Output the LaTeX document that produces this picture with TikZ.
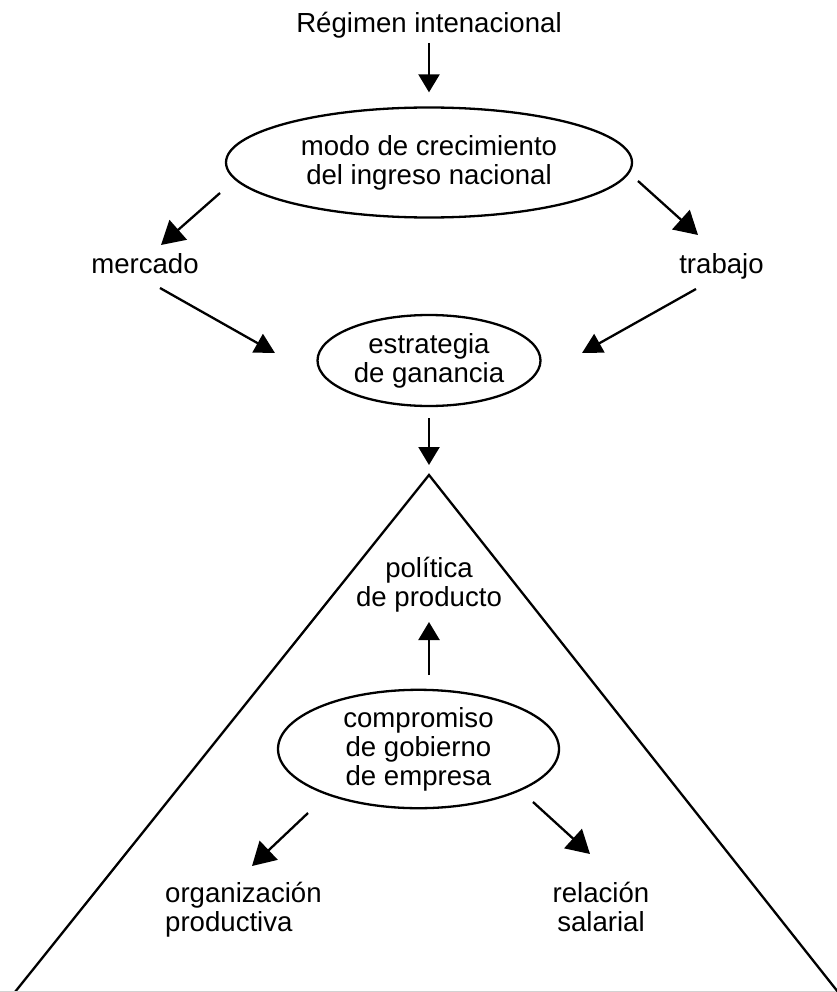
\documentclass[tikz,border=0pt]{standalone}
\usepackage{fontspec}
\setmainfont{Liberation Sans}
\usetikzlibrary{shapes.geometric,arrows.meta}
\begin{document}
\begin{tikzpicture}[x=1pt,y=-1pt,
  every node/.style={font=\fontsize{27.6}{29}\selectfont, inner sep=0pt},
  label/.style={align=center},
  oval/.style={draw, ellipse, line width=2.3pt, align=center},
  arrS/.style={line width=2.3pt, -{Triangle[length=18pt,width=21pt]}},
  arrM/.style={line width=2.3pt, -{Triangle[length=20pt,width=21pt]}},
  arrL/.style={line width=2.3pt, -{Triangle[length=23pt,width=26pt]}},
  edge/.style={line width=2.3pt}]
\useasboundingbox (0,0) rectangle (836,992);
\fill[white] (0,0) rectangle (836,992);

% nodes
\node[anchor=base] (reg) at (429,33) {Régimen intenacional};
\node[oval, minimum width=406pt, minimum height=110pt] (modo) at (429,162.5)
  {modo de crecimiento\\del ingreso nacional};
\node[anchor=base] (merc) at (145,273) {mercado};
\node[anchor=base] (trab) at (721.5,273) {trabajo};
\node[oval, minimum width=223pt, minimum height=91pt] (estr) at (429,360.5)
  {estrategia\\de ganancia};
\coordinate (apex) at (429,475);
\coordinate (bl) at (15,992);
\coordinate (br) at (838,992);
\node[label] (pol) at (429,585) {política\\de producto};
\node[oval, minimum width=281pt, minimum height=114pt] (comp) at (418.5,749)
  {compromiso\\de gobierno\\de empresa};
\node[align=left, anchor=west] (org) at (165,909.5) {organización\\productiva};
\node[label] (rel) at (601,906.5) {relación\\salarial};

% triangle
\draw[edge, line join=miter] (bl) -- (apex) -- (br);
\draw[gray!35, line width=1pt] (0,991.5) -- (836,991.5);

% connectors
\draw[arrS] ([shift={(0,10)}]reg.base) -- ([shift={(0,-14)}]modo.north);
\draw[arrL] ([shift={(-209,30.5)}]modo.center) -- ([shift={(16,-28)}]merc.base);
\draw[arrL] ([shift={(209,18.5)}]modo.center) -- ([shift={(-23.5,-38)}]trab.base);
\draw[arrM] ([shift={(15,15)}]merc.base) -- ([shift={(-154,-7.5)}]estr.center);
\draw[arrM] ([shift={(-25.5,16)}]trab.base) -- ([shift={(153,-7.5)}]estr.center);
\draw[arrS] ([shift={(0,11)}]estr.south) -- ([shift={(0,-10)}]apex);
\draw[arrS] ([shift={(10.5,-74)}]comp.center) -- ([shift={(0,37)}]pol.center);
\draw[arrL] ([shift={(-110.5,64)}]comp.center) -- ([shift={(87,-43.5)}]org.west);
\draw[arrL] ([shift={(114.5,53)}]comp.center) -- ([shift={(-11,-52.5)}]rel.center);
\end{tikzpicture}
\end{document}
